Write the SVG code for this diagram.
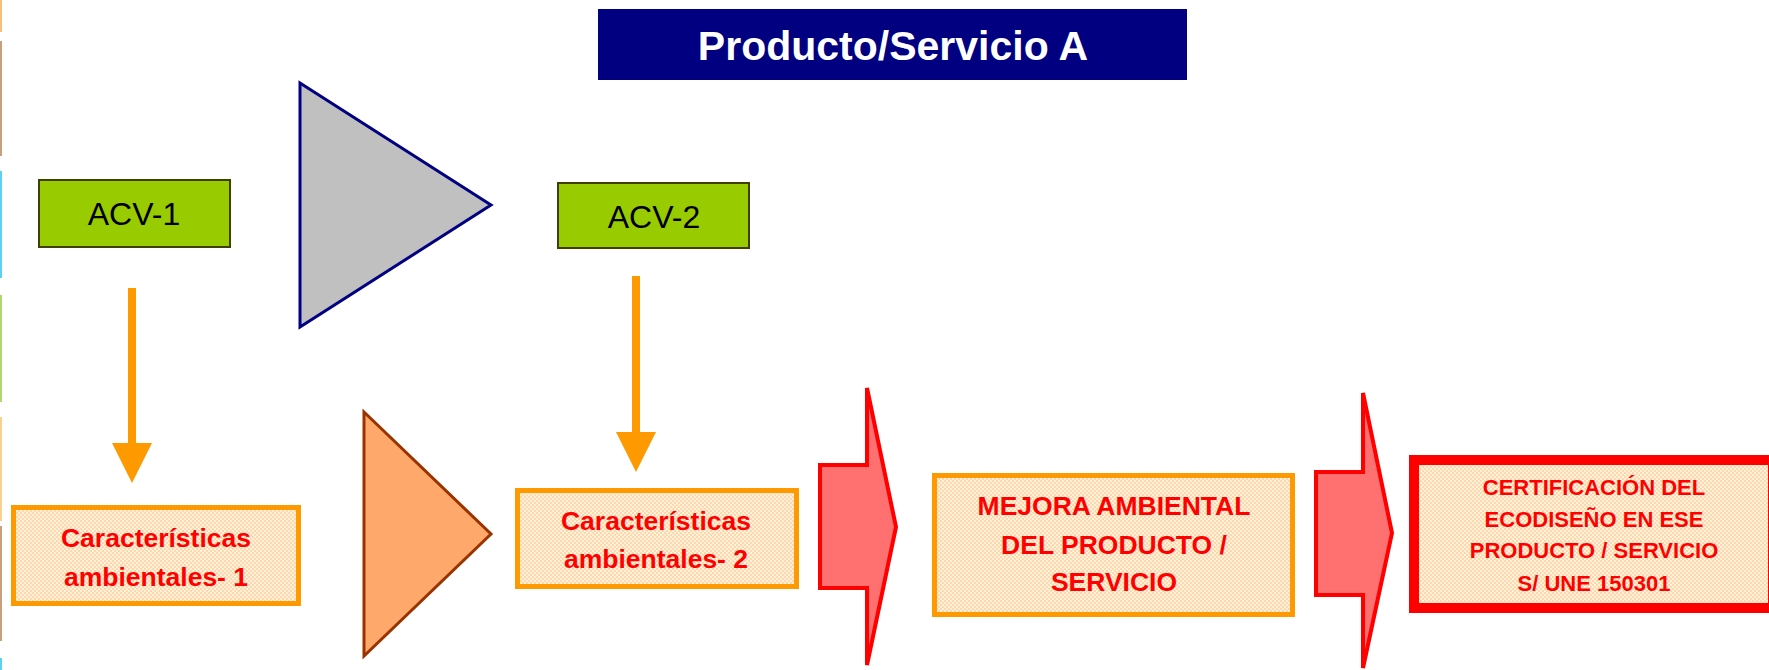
<svg xmlns="http://www.w3.org/2000/svg" width="1769" height="670" viewBox="0 0 1769 670">
<style>
.lbl{font-family:"Liberation Sans",Arial,sans-serif;font-weight:bold;fill:#FF0000;text-anchor:middle}
.acv{font-family:"Liberation Sans",Arial,sans-serif;font-size:32px;fill:#000000;text-anchor:middle}
.obox{fill:url(#dots);stroke:#FF9900;stroke-width:5}
.gbox{fill:#99CC00;stroke:#3F3F00;stroke-width:2}
.barrow{fill:#FF7070;stroke:#FF0000;stroke-width:4;stroke-linejoin:miter}
.ovl{stroke:#FF9900;stroke-width:8;fill:none}
</style>
<defs>
<pattern id="dots" width="4" height="4" patternUnits="userSpaceOnUse">
<rect width="4" height="4" fill="#FFF2E2"/>
<rect width="2" height="2" fill="#FFD8A6"/>
<rect x="2" y="2" width="2" height="2" fill="#FFD8A6"/>
</pattern>
<marker id="ohead" markerUnits="userSpaceOnUse" markerWidth="40" markerHeight="40" viewBox="0 0 40 40" refX="0" refY="20" orient="auto">
<path d="M0,0 L40,20 L0,40 Z" fill="#FF9900"/>
</marker>
</defs>
<rect width="1769" height="670" fill="#FFFFFF"/>
<g id="edge-strips">
<rect x="0" y="0" width="2" height="32" fill="#F5C07A"/>
<rect x="0" y="41" width="2" height="115" fill="#C8A080"/>
<rect x="0" y="171" width="2" height="107" fill="#60D0F0"/>
<rect x="0" y="295" width="2" height="107" fill="#B0D870"/>
<rect x="0" y="417" width="2" height="104" fill="#F8D090"/>
<rect x="0" y="526" width="2" height="115" fill="#C8A080"/>
<rect x="0" y="658" width="2" height="12" fill="#60D0F0"/>
</g>
<g id="title">
<rect x="598" y="9" width="589" height="71" fill="#000080"/>
<text x="893" y="60" font-family="Liberation Sans,Arial,sans-serif" font-weight="bold" font-size="41" fill="#FFFFFF" text-anchor="middle">Producto/Servicio A</text>
</g>
<g id="acv1">
<rect class="gbox" x="39" y="180" width="191" height="67"/>
<text class="acv" x="134" y="225">ACV-1</text>
</g>
<g id="acv2">
<rect class="gbox" x="558" y="183" width="191" height="65"/>
<text class="acv" x="654" y="228">ACV-2</text>
</g>
<g id="caract1">
<rect class="obox" x="13.5" y="507.5" width="285" height="96"/>
<text class="lbl" font-size="26.5" x="156" y="547">Características</text>
<text class="lbl" font-size="26.5" x="156" y="586">ambientales- 1</text>
</g>
<g id="caract2">
<rect class="obox" x="517.5" y="490.5" width="279" height="96"/>
<text class="lbl" font-size="26.5" x="656" y="530">Características</text>
<text class="lbl" font-size="26.5" x="656" y="568">ambientales- 2</text>
</g>
<g id="mejora">
<rect class="obox" x="934.5" y="475.5" width="358" height="139"/>
<text class="lbl" font-size="26.5" x="1114" y="515">MEJORA AMBIENTAL</text>
<text class="lbl" font-size="26.5" x="1114" y="554">DEL PRODUCTO /</text>
<text class="lbl" font-size="26.5" x="1114" y="591">SERVICIO</text>
</g>
<g id="certificacion">
<rect x="1414" y="460" width="359" height="148" fill="url(#dots)" stroke="#FF0000" stroke-width="10"/>
<text class="lbl" font-size="22" x="1594" y="495">CERTIFICACIÓN DEL</text>
<text class="lbl" font-size="22" x="1594" y="527">ECODISEÑO EN ESE</text>
<text class="lbl" font-size="22" x="1594" y="558">PRODUCTO / SERVICIO</text>
<text class="lbl" font-size="22" x="1594" y="591">S/ UNE 150301</text>
</g>
<g id="connectors">
<polygon points="300,83 491,205 300,327" fill="#C0C0C0" stroke="#000080" stroke-width="3"/>
<polygon points="364,412 491,534 364,656" fill="#FFA86C" stroke="#993300" stroke-width="3"/>
<line class="ovl" x1="132" y1="288" x2="132" y2="443" marker-end="url(#ohead)"/>
<line class="ovl" x1="636" y1="276" x2="636" y2="432" marker-end="url(#ohead)"/>
<polygon class="barrow" points="820,465 867,465 867,388 896,527 867,665 867,588 820,588"/>
<polygon class="barrow" points="1316,472 1363,472 1363,393 1392,533 1363,668 1363,595 1316,595"/>
</g>
</svg>
